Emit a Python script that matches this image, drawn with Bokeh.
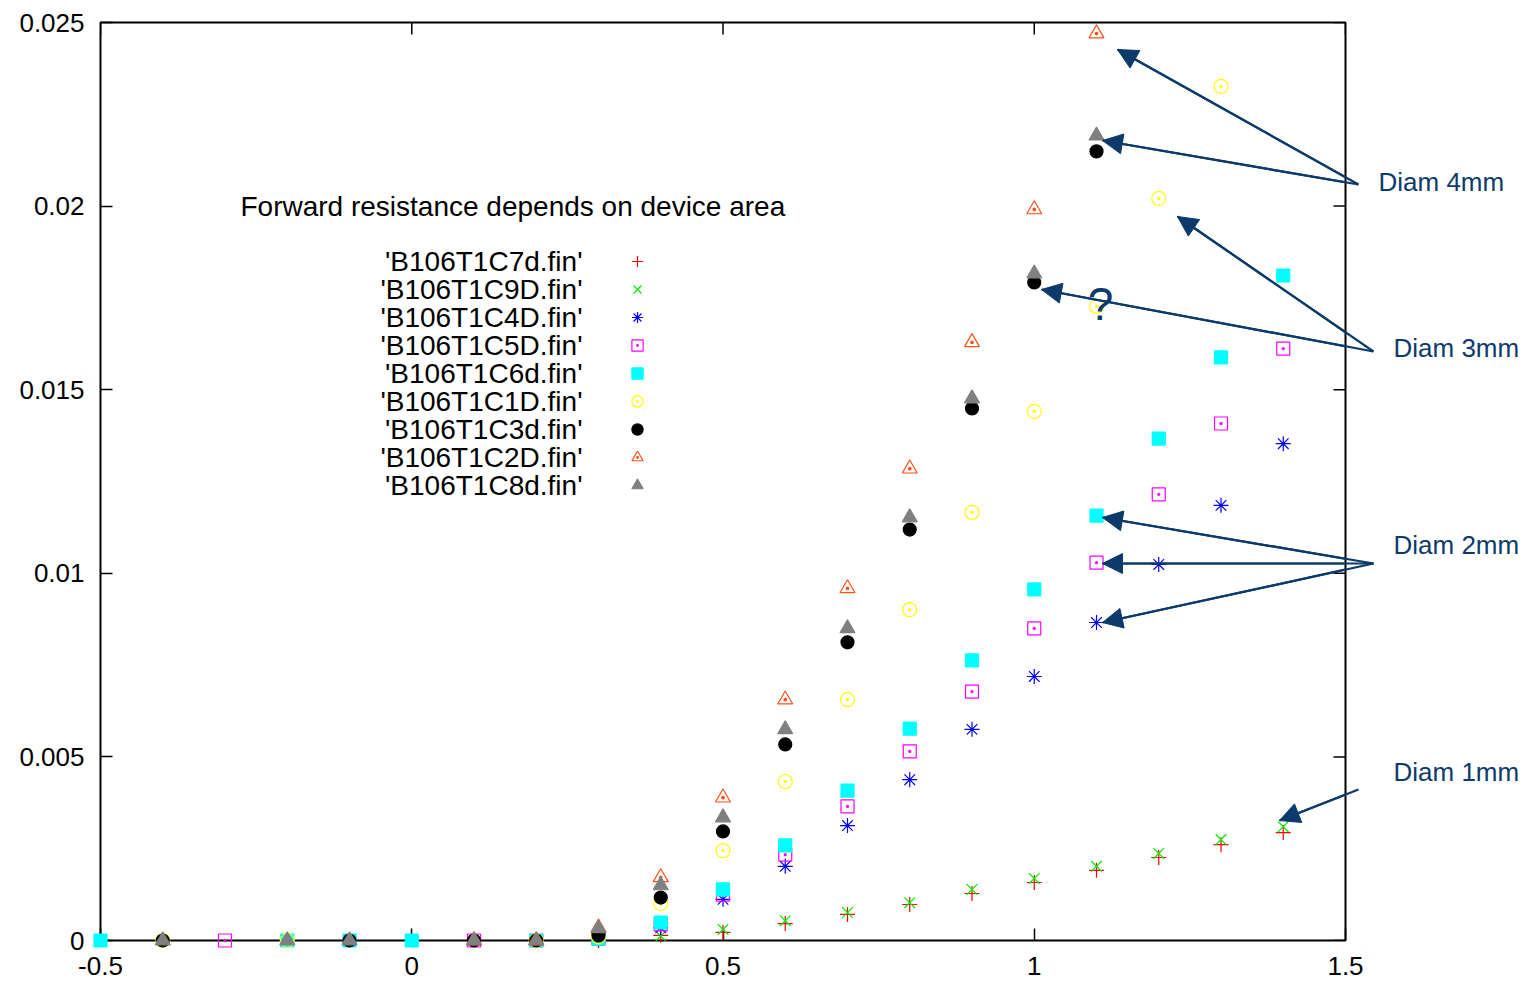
import math
from bokeh.plotting import figure
from bokeh.models import (FixedTicker, LinearAxis, Label, Arrow, NormalHead, Range1d,
                          Legend, LegendItem)
from bokeh.core.properties import value
from bokeh.embed import file_html
from bokeh.resources import INLINE

# ---------------- data ----------------
x_c7d = [0.3, 0.4, 0.5, 0.6, 0.7, 0.8, 0.9, 1.0, 1.1, 1.2, 1.3, 1.4]
y_c7d = [0.0, 0.00014, 0.00022, 0.00046, 0.00071, 0.00098, 0.00128, 0.00158, 0.00191, 0.00226, 0.00261, 0.00294]

x_c9d = [-0.4, 0.3, 0.4, 0.5, 0.6, 0.7, 0.8, 0.9, 1.0, 1.1, 1.2, 1.3, 1.4]
y_c9d = [0.0, 0.00002, 0.00012, 0.0003, 0.00054, 0.00076, 0.00103, 0.00139, 0.00169, 0.00202, 0.00237, 0.00275, 0.0031]

x_c4d = [0.3, 0.4, 0.5, 0.6, 0.7, 0.8, 0.9, 1.0, 1.1, 1.2, 1.3, 1.4]
y_c4d = [0.00003, 0.00035, 0.00112, 0.00202, 0.00313, 0.00438, 0.00575, 0.00719, 0.00866, 0.01024, 0.01185, 0.01353]

x_c5d = [-0.3, 0.1, 0.2, 0.3, 0.4, 0.5, 0.6, 0.7, 0.8, 0.9, 1.0, 1.1, 1.2, 1.3, 1.4]
y_c5d = [0.0, 0.0, 0.0, 0.00005, 0.00044, 0.00125, 0.00234, 0.00365, 0.00515, 0.00678, 0.0085, 0.01029, 0.01215, 0.01408, 0.01612]

x_c6d = [-0.5, -0.2, -0.1, 0.0, 0.2, 0.3, 0.4, 0.5, 0.6, 0.7, 0.8, 0.9, 1.0, 1.1, 1.2, 1.3, 1.4]
y_c6d = [0.0, 0.0, 0.0, 0.0, 0.0, 0.00005, 0.00049, 0.00139, 0.00259, 0.00408, 0.00577, 0.00763, 0.00956, 0.01157, 0.01367, 0.01588, 0.01811]

x_c1d = [-0.4, -0.2, 0.2, 0.3, 0.4, 0.5, 0.6, 0.7, 0.8, 0.9, 1.0, 1.1, 1.2, 1.3]
y_c1d = [0.0, 0.0, 0.0, 0.0001, 0.00101, 0.00245, 0.00433, 0.00656, 0.00901, 0.01166, 0.01441, 0.01727, 0.02021, 0.02326]

x_c3d = [-0.4, -0.1, 0.1, 0.2, 0.3, 0.4, 0.5, 0.6, 0.7, 0.8, 0.9, 1.0, 1.1]
y_c3d = [0.0, 0.0, 0.0, 0.0, 0.00014, 0.00117, 0.00297, 0.00534, 0.00812, 0.01119, 0.01449, 0.01792, 0.02149]

x_c2d = [0.1, 0.2, 0.3, 0.4, 0.5, 0.6, 0.7, 0.8, 0.9, 1.0, 1.1]
y_c2d = [0.0, 0.0, 0.00035, 0.00172, 0.00389, 0.00656, 0.00959, 0.01285, 0.01629, 0.01991, 0.0247]

x_c8d = [-0.4, -0.2, -0.1, 0.1, 0.2, 0.3, 0.4, 0.5, 0.6, 0.7, 0.8, 0.9, 1.0, 1.1]
y_c8d = [0.0, 0.0, 0.0, 0.0, 0.0, 0.00033, 0.0015, 0.00335, 0.00575, 0.0085, 0.01152, 0.01476, 0.01816, 0.02192]

labels = ["'B106T1C7d.fin'", "'B106T1C9D.fin'", "'B106T1C4D.fin'", "'B106T1C5D.fin'",
          "'B106T1C6d.fin'", "'B106T1C1D.fin'", "'B106T1C3d.fin'", "'B106T1C2D.fin'",
          "'B106T1C8d.fin'"]

x_ticks = [-0.5, 0, 0.5, 1, 1.5]
x_tick_labels = ["-0.5", "0", "0.5", "1", "1.5"]
y_ticks = [0, 0.005, 0.01, 0.015, 0.02, 0.025]
y_tick_labels = ["0", "0.005", "0.01", "0.015", "0.02", "0.025"]

title_text = "Forward resistance depends on device area"
diam_texts = ["Diam 4mm", "Diam 3mm", "Diam 2mm", "Diam 1mm"]

# ---------------- figure ----------------
FONT = "Liberation Sans"
NAVY = "#0b3a6b"
X0, X1, Y0, Y1 = -0.5, 1.5, 0.0, 0.025
FL, FR, FT, FB = 100, 1345, 22, 940   # frame in screen px


def px_x(px):
    return X0 + (px - FL) * (X1 - X0) / (FR - FL)


def px_y(py):
    return Y0 + (FB - py) * (Y1 - Y0) / (FB - FT)


p = figure(width=1533, height=984, output_backend="svg", toolbar_location=None,
           x_range=Range1d(X0, X1), y_range=Range1d(Y0, Y1),
           min_border_left=FL, min_border_right=1533 - FR, min_border_top=FT,
           min_border_bottom=984 - FB,
           x_axis_location=None, y_axis_location=None)
p.grid.visible = False
p.outline_line_color = "black"
p.outline_line_width = 2
p.background_fill_color = "white"
p.border_fill_color = "white"


def make_axis(ticks, tick_labels, standoff):
    ax = LinearAxis(ticker=FixedTicker(ticks=ticks),
                    major_label_overrides={t: l for t, l in zip(ticks, tick_labels)})
    ax.axis_line_color = None
    ax.major_tick_in = 12
    ax.major_tick_out = 0
    ax.major_tick_line_color = "black"
    ax.major_tick_line_width = 1.5
    ax.minor_tick_line_color = None
    ax.major_label_text_font = FONT
    ax.major_label_text_color = "black"
    ax.major_label_text_font_size = "26px"
    ax.major_label_standoff = standoff
    return ax


p.add_layout(make_axis(x_ticks, x_tick_labels, 16), "below")
p.add_layout(make_axis(y_ticks, y_tick_labels, 16), "left")

# mirrored inward ticks on top and right edges
p.ray(x=x_ticks, y=[Y1] * len(x_ticks), length=12, length_units="screen",
      angle=-math.pi / 2, line_color="black", line_width=1.5)
p.ray(x=[X1] * len(y_ticks), y=y_ticks, length=12, length_units="screen",
      angle=math.pi, line_color="black", line_width=1.5)

series = [
    (x_c7d, y_c7d, "cross", "#ff0000", None, 15),
    (x_c9d, y_c9d, "x", "#00ee00", None, 15),
    (x_c4d, y_c4d, "asterisk", "#0000ff", None, 15),
    (x_c5d, y_c5d, "square_dot", "#ff00ff", None, 13),
    (x_c6d, y_c6d, "square", "#00ffff", "#00ffff", 13),
    (x_c1d, y_c1d, "circle_dot", "#ffff00", None, 14),
    (x_c3d, y_c3d, "circle", "#000000", "#000000", 13),
    (x_c2d, y_c2d, "triangle_dot", "#ff4f1a", None, 15),
    (x_c8d, y_c8d, "triangle", "#808080", "#808080", 15),
]

items = []
for xs, ys, marker, color, fill, size in series:
    r = p.scatter(xs, ys, marker=marker, size=size, line_color=color,
                  fill_color=fill, line_width=1.2, level="annotation")
    items.append(LegendItem(label=value(""), renderers=[r]))

# legend samples (gnuplot style: text on the left, sample on the right)
legend = Legend(items=items, location=(521, 441))
legend.background_fill_alpha = 0
legend.border_line_color = None
legend.label_text_font = FONT
legend.label_text_font_size = "8px"
legend.glyph_width = 32
legend.glyph_height = 28
legend.label_height = 8
legend.label_width = 1
legend.spacing = 0
legend.padding = 10
legend.margin = 0
legend.label_standoff = 0
p.add_layout(legend, "center")

ROW0, ROWSTEP = 261, 28
for i, lab in enumerate(labels):
    p.add_layout(Label(x=px_x(582), y=px_y(ROW0 + ROWSTEP * i), text=lab, text_font=FONT,
                       text_font_size="28px", text_baseline="middle", text_align="right",
                       text_color="black"))

# ---------------- annotations ----------------
p.add_layout(Label(x=px_x(240), y=px_y(206), text=title_text, text_font=FONT,
                   text_font_size="28px", text_baseline="middle", text_color="black"))

diam_px = [(1378, 181), (1393, 347), (1393, 544), (1393, 771)]
p.text(x=[px_x(a) for a, b in diam_px], y=[px_y(b) for a, b in diam_px], text=diam_texts,
       text_font=value(FONT), text_font_size=value("26px"), text_baseline="middle",
       text_align="left", text_color=NAVY, level="annotation")

p.add_layout(Label(x=px_x(1100), y=px_y(303), text="?", text_font=FONT, text_font_size="46px",
                   text_baseline="middle", text_align="center", text_color=NAVY))

arrows_px = [
    ((1358, 184), (1117, 49)),
    ((1358, 184), (1102, 140)),
    ((1373, 351), (1177, 216)),
    ((1373, 351), (1041, 289)),
    ((1373, 563), (1102, 517)),
    ((1373, 563), (1102, 563)),
    ((1373, 563), (1102, 622)),
    ((1358, 789), (1279, 820)),
]
xs0 = [px_x(a[0]) for a, b in arrows_px]
ys0 = [px_y(a[1]) for a, b in arrows_px]
xs1 = [px_x(b[0]) for a, b in arrows_px]
ys1 = [px_y(b[1]) for a, b in arrows_px]
p.segment(x0=xs0, y0=ys0, x1=xs1, y1=ys1, line_color=NAVY, line_width=2.2, level="annotation")
for a, b, c, d in zip(xs0, ys0, xs1, ys1):
    p.add_layout(Arrow(end=NormalHead(size=20, fill_color=NAVY, line_color=NAVY, line_width=1),
                       x_start=a, y_start=b, x_end=c, y_end=d,
                       line_color=NAVY, line_width=2.2))

open("out.html", "w").write(file_html(p, INLINE))
